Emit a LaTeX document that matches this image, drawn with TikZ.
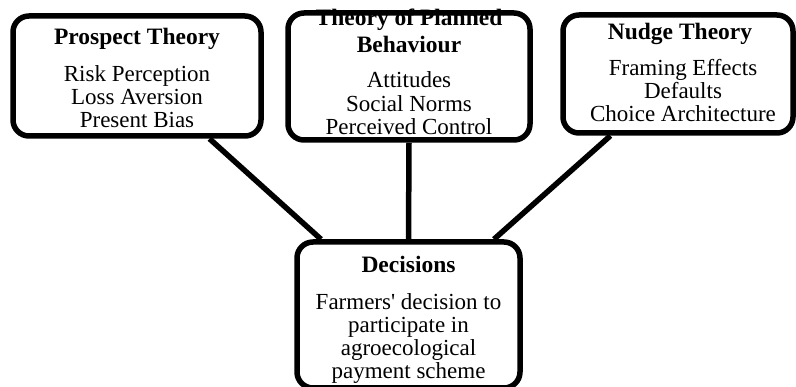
\documentclass[tikz,border=0pt]{standalone}
\usepackage{fontspec}
\setmainfont{Liberation Serif}
\usetikzlibrary{calc}
\tikzset{
  box/.style={draw=black, line width=5.5pt, rounded corners=16pt, inner sep=0pt, fill=white},
  link/.style={draw=black, line width=5.5pt},
  ttl/.style={anchor=base, inner sep=0pt, font=\fontsize{23.5}{27}\selectfont\bfseries, align=center},
  bdy/.style={anchor=base, inner sep=0pt, font=\fontsize{23}{23.2}\selectfont, align=center},
}
\begin{document}
\begin{tikzpicture}[x=1pt,y=-1pt]
\useasboundingbox (0,0) rectangle (796,387);
% boxes
\node[box, minimum width=248pt, minimum height=120pt] (b1) at (137,76) {};
\node[box, minimum width=242pt, minimum height=127pt] (b2) at (409,76.5) {};
\node[box, minimum width=230pt, minimum height=118pt] (b3) at (678,74) {};
\node[box, minimum width=223pt, minimum height=146pt] (b4) at (408.5,315) {};
% connectors
\draw[link] ($(b1.south west)!0.786!(b1.south east)$) -- ($(b4.north west)!0.117!(b4.north east)$);
\draw[link] (b2.south) -- (b4.north);
\draw[link] ($(b3.south west)!0.213!(b3.south east)$) -- ($(b4.north west)!0.874!(b4.north east)$);
% texts (base anchor = baseline of the last line)
\node[ttl] (t1) at (137,45) {Prospect Theory};
\node[bdy] (l1) at (137,128) {Risk Perception\\Loss Aversion\\Present Bias};
\node[ttl] (t2) at (409,53) {Theory of Planned\\Behaviour};
\node[bdy, font=\fontsize{23}{23.6}\selectfont] (l2) at (409,135) {Attitudes\\Social Norms\\Perceived Control};
\node[ttl] (t3) at (680,40) {Nudge Theory};
\node[bdy] (l3) at (683,122) {Framing Effects\\Defaults\\Choice Architecture};
\node[ttl] (t4) at (408.5,273) {Decisions};
\node[bdy] (l4) at (408.5,379) {Farmers\textquotesingle{} decision to\\participate in\\agroecological\\payment scheme};
\end{tikzpicture}
\end{document}
